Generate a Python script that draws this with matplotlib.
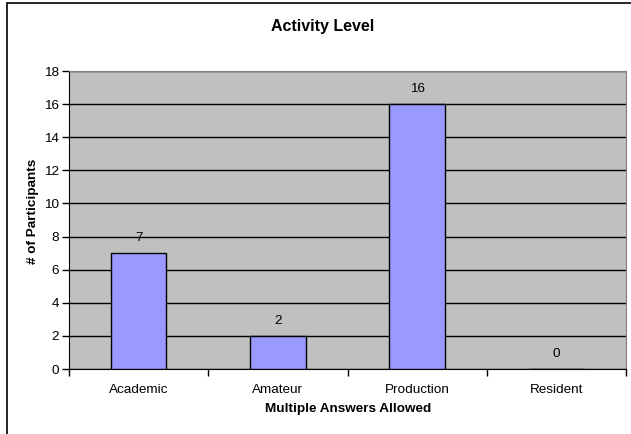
import matplotlib.pyplot as plt
from matplotlib.patches import Rectangle

plt.rcParams['font.family'] = ['Liberation Sans', 'DejaVu Sans']

categories = ["Academic", "Amateur", "Production", "Resident"]
counts = [7, 2, 16, 0]
yticks = [0, 2, 4, 6, 8, 10, 12, 14, 16, 18]

W, H = 631, 434
fig = plt.figure(figsize=(W / 100, H / 100), dpi=100)
ax = fig.add_axes([69 / W, 1 - 369 / H, (626 - 69) / W, (369 - 71) / H])

ax.set_facecolor("#C0C0C0")
xs = range(len(categories))
ax.bar(xs, counts, width=0.4, color="#9999FF", edgecolor="black", linewidth=1, zorder=3)
for x, v in zip(xs, counts):
    ax.annotate(str(v), (x, v), xytext=(0, 10.8), textcoords="offset points",
                ha="center", va="center", fontsize=9.7, zorder=4)

ax.set_xlim(-0.5, len(categories) - 0.5)
ax.set_ylim(0, 18)
ax.set_yticks(yticks)
ax.yaxis.grid(True, color="black", linewidth=1, zorder=1)
ax.set_axisbelow(True)

# category labels between boundary ticks
ax.set_xticks([i - 0.5 for i in range(len(categories) + 1)])
ax.set_xticklabels([])
ax.set_xticks(list(xs), minor=True)
ax.set_xticklabels(categories, minor=True, fontsize=9.7)
ax.tick_params(axis="x", which="minor", length=0, pad=11)
ax.tick_params(axis="x", which="major", length=5, width=1, direction="out")
ax.tick_params(axis="y", length=5, width=1, direction="out", labelsize=9.7, pad=2)

for side in ["top", "right"]:
    ax.spines[side].set_color("#808080")
for side in ["left", "bottom"]:
    ax.spines[side].set_color("black")

fig.text(323 / W, 1 - 27 / H, "Activity Level", ha="center", va="center",
         fontsize=11.5, fontweight="bold")
fig.text(348 / W, 1 - 409 / H, "Multiple Answers Allowed", ha="center", va="center",
         fontsize=9.7, fontweight="bold")
fig.text(33 / W, 1 - 211 / H, "# of Participants", ha="center", va="center",
         fontsize=9.7, fontweight="bold", rotation=90)

# chart frame
fig.patches.append(Rectangle((7 / W, -0.1), 1.2, 1 - 3 / H + 0.1, transform=fig.transFigure,
                             fill=False, edgecolor="black", linewidth=1.2))

fig.savefig("out.png", dpi=100)
